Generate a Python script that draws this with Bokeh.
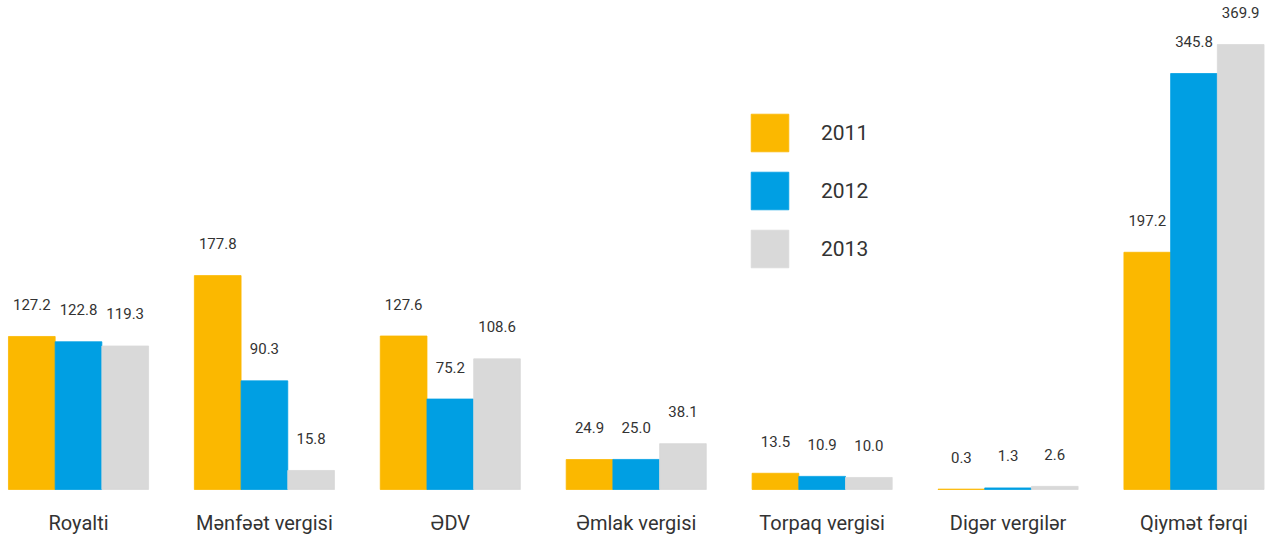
from bokeh.plotting import figure
from bokeh.models import ColumnDataSource, Range1d, Legend, LegendItem
from bokeh.transform import dodge
from bokeh.core.properties import value
from bokeh.embed import file_html
from bokeh.resources import INLINE

categories = ["Royalti", "Mənfəət vergisi", "ƏDV", "Əmlak vergisi", "Torpaq vergisi", "Digər vergilər", "Qiymət fərqi"]
years = ["2011", "2012", "2013"]
v2011 = [127.2, 177.8, 127.6, 24.9, 13.5, 0.3, 197.2]
v2012 = [122.8, 90.3, 75.2, 25.0, 10.9, 1.3, 345.8]
v2013 = [119.3, 15.8, 108.6, 38.1, 10.0, 2.6, 369.9]
colors = ["#FBB800", "#009FE3", "#D9D9D9"]

FONT = "Roboto"
TXT = "#333333"

xs = list(range(len(categories)))
src = ColumnDataSource(dict(x=xs, cat=categories, y0=[0] * len(xs),
                            v2011=v2011, v2012=v2012, v2013=v2013,
                            l2011=[f"{v:.1f}" for v in v2011],
                            l2012=[f"{v:.1f}" for v in v2012],
                            l2013=[f"{v:.1f}" for v in v2013]))

p = figure(width=1279, height=541, output_backend="svg", toolbar_location=None,
           x_range=Range1d(-0.4196, 6.460), y_range=Range1d(-43.23, 406.5),
           min_border=0)
p.axis.visible = False
p.grid.visible = False
p.outline_line_color = None

bw = 0.2512
renderers = []
for j, (yr, col) in enumerate(zip(years, colors)):
    off = (j - 1) * bw
    r = p.vbar(x=dodge("x", off), top="v" + yr, width=bw, source=src,
               fill_color=col, line_color=col, line_width=0.8)
    renderers.append(r)
    p.text(x=dodge("x", off), y="v" + yr, text="l" + yr, source=src,
           text_align="center", text_baseline="middle", y_offset=-32,
           text_font=value(FONT), text_font_size="15px", text_color=TXT)

p.text(x="x", y="y0", text="cat", source=src, text_align="center",
       text_baseline="middle", y_offset=34, text_font=value(FONT),
       text_font_size="20px", text_color=TXT)

legend = Legend(items=[LegendItem(label=yr, renderers=[r]) for yr, r in zip(years, renderers)],
                location=(746, 269), orientation="vertical",
                glyph_width=47, glyph_height=47, spacing=11, label_standoff=28,
                padding=0, margin=0, border_line_alpha=0, background_fill_alpha=0,
                label_text_font=FONT, label_text_font_size="21px", label_text_color=TXT)
p.add_layout(legend, "center")

open("out.html", "w").write(file_html(p, INLINE))
